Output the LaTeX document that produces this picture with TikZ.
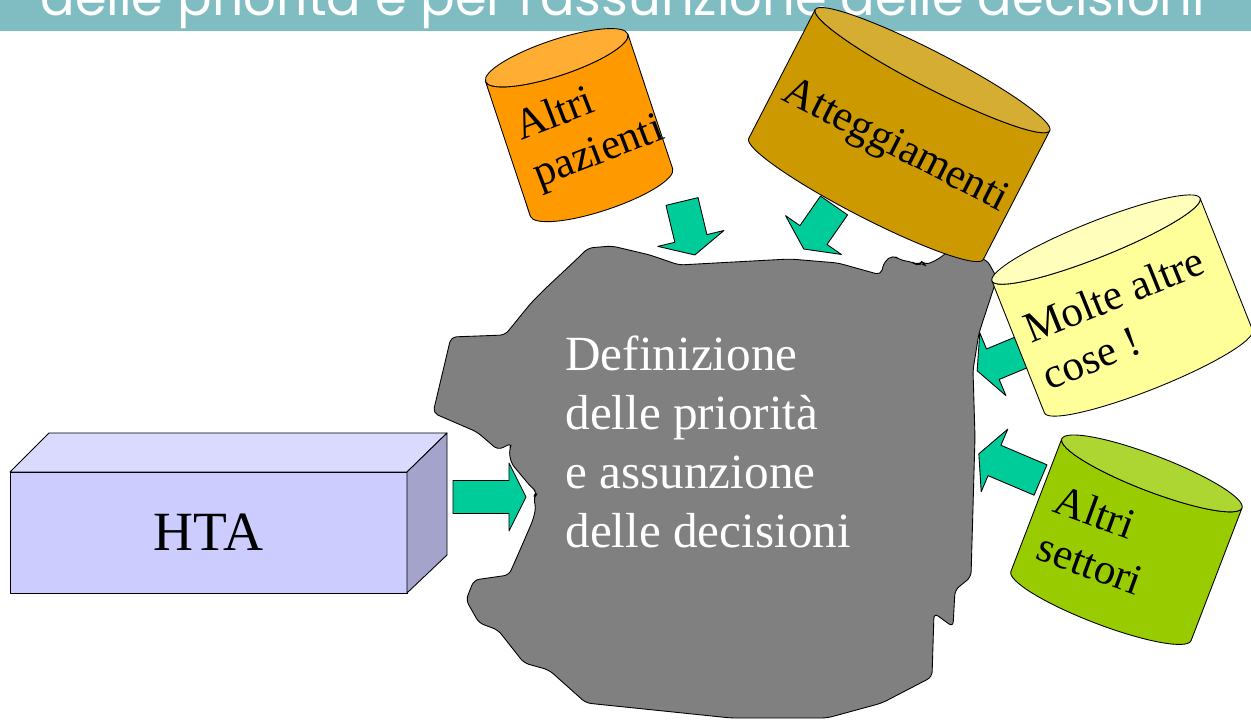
\documentclass[tikz,border=0pt]{standalone}
\usepackage{fontspec}
\setmainfont{Liberation Serif}
\newfontfamily\titelfont{Poppins}
\usetikzlibrary{calc}

\definecolor{titelblau}{RGB}{127,189,195}
\definecolor{grau}{RGB}{128,128,128}
\definecolor{pfeilgruen}{RGB}{0,204,153}
\definecolor{htavorn}{RGB}{204,204,255}
\definecolor{htaoben}{RGB}{218,218,255}
\definecolor{htaseite}{RGB}{163,163,204}
\definecolor{orangeleib}{RGB}{255,153,0}
\definecolor{orangedeckel}{RGB}{255,173,51}
\definecolor{goldleib}{RGB}{204,153,0}
\definecolor{golddeckel}{RGB}{214,173,51}
\definecolor{gelbleib}{RGB}{255,255,153}
\definecolor{gelbdeckel}{RGB}{255,255,187}
\definecolor{gruenleib}{RGB}{153,204,0}
\definecolor{gruendeckel}{RGB}{173,214,51}

% Blockpfeil: Anfang, Winkel, Schaftlaenge
\newcommand{\blockpfeil}[3]{%
    \draw[pfeil, shift={#1}, rotate=#2]
        (0,-16.5) -- (#3,-16.5) -- (#3,-34) -- (#3+17,0)
        -- (#3,34) -- (#3,16.5) -- (0,16.5) -- cycle;}

% Zylinder: Bodenmitte, Winkel, Radius, Hoehe, Farbe Mantel, Farbe Deckel
\newcommand{\zylinder}[6]{%
    \begin{scope}[shift={#1}, rotate=#2, yscale=-1]
        \filldraw[fill=#5] (-#3,0)
            arc[start angle=180, end angle=360, x radius=#3, y radius=18]
            -- (#3,#4)
            arc[start angle=0, end angle=-180, x radius=#3, y radius=18]
            -- cycle;
        \filldraw[fill=#6] (0,#4) ellipse[x radius=#3, y radius=18];
    \end{scope}}

\begin{document}
\begin{tikzpicture}[
        x=0.02cm, y=-0.02cm,
        line width=0.5pt, line join=round,
        pfeil/.style={draw, fill=pfeilgruen},
        wolke/.style={draw, fill=grau, rounded corners=3pt},
        zyltext/.style={inner sep=0pt, align=left,
            font=\fontsize{24.5}{28.5}\selectfont}
        ]
    \useasboundingbox (0,0) rectangle (1251,722);
    \clip (0,0) rectangle (1251,722);

    % Titelleiste
    \fill[titelblau] (0,0) rectangle (1251,31);
    \node[anchor=base west, inner sep=0pt, text=white] (titel) at (40,15.7)
        {\resizebox{23.3cm}{!}{\titelfont delle priorità e per l'assunzione delle decisioni}};

    % Wolke
    \draw[wolke] (588,248) -- (612,246) -- (650,255) -- (679,265) -- (734,262)
        -- (790,259) -- (838,263) -- (881,275) -- (884,262) -- (893,255)
        -- (900,260) -- (912,262) -- (917,265) -- (922,262) -- (925,265)
        -- (937,260) -- (949,251) -- (987,260) -- (997,278) -- (979,333)
        -- (973,370) -- (975,437) -- (971,577) -- (955,590) -- (953,627)
        -- (934,613) -- (932,677) -- (882,703) -- (827,718) -- (731,718)
        -- (586,703) -- (549,670) -- (524,663) -- (498,630) -- (479,623)
        -- (466,600) -- (474,580) -- (509,575) -- (520,550) -- (533,520)
        -- (536,507) -- (533,497) -- (538,493) -- (531,487) -- (511,463)
        -- (509,450) -- (512,443) -- (498,450) -- (477,432) -- (433,413)
        -- (451,337) -- (505,335) -- (531,303) -- (546,288) -- (579,257)
        -- cycle;
    \node[anchor=west, inner sep=0pt, align=left, text=white,
        font=\fontsize{28}{33.6}\selectfont] (definizione) at (565,442)
        {Definizione\\delle priorità\\e assunzione\\delle decisioni};

    % Pfeile
    \blockpfeil{(453,497)}{0}{56}
    \blockpfeil{(682,201.5)}{-76.5}{38}
    \blockpfeil{(834,205.5)}{-124.8}{36}
    \blockpfeil{(1039,345)}{202.6}{50}
    \blockpfeil{(1040.5,480)}{157}{50}

    % Zylinder
    \zylinder{(601.5,192.5)}{18.4}{75}{142}{orangeleib}{orangedeckel}
    \zylinder{(866,199)}{-27.3}{132}{145}{goldleib}{golddeckel}
    \zylinder{(1148.5,371.5)}{21.7}{112}{142}{gelbleib}{gelbdeckel}
    \zylinder{(1101,606)}{-21}{96.5}{142}{gruenleib}{gruendeckel}

    \node[zyltext, rotate=21] (pazienti) at (590,130) {Altri\\pazienti};
    \node[zyltext, rotate=-27] (atteggiamenti) at (895,147) {Atteggiamenti};
    \node[zyltext, rotate=22] (molte) at (1123,318) {Molte altre\\cose !};
    \node[zyltext, rotate=-20] (settori) at (1099,540) {Altri\\settori};

    % HTA-Quader
    \filldraw[fill=htavorn] (10,472) rectangle (407,593);
    \filldraw[fill=htaoben] (10,472) -- (49,433) -- (447,433) -- (407,472) -- cycle;
    \filldraw[fill=htaseite] (407,472) -- (447,433) -- (447,555) -- (407,593) -- cycle;
    \node[inner sep=0pt, font=\fontsize{31.5}{38}\selectfont] (hta) at (208.5,532.5) {HTA};

\end{tikzpicture}
\end{document}
